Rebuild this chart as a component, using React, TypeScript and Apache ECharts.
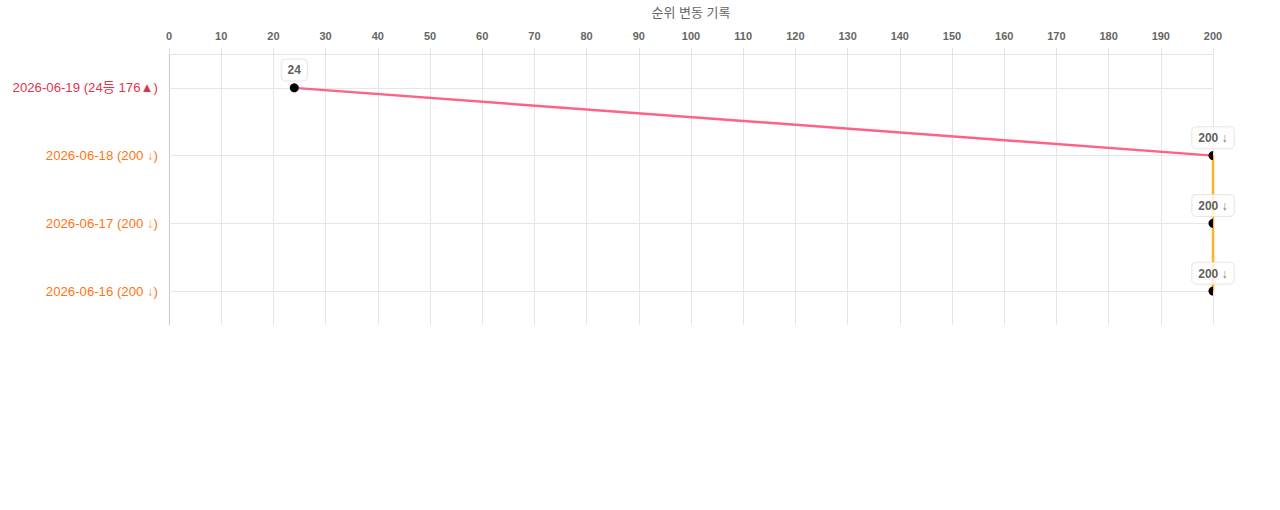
import React, { useEffect, useRef } from "react";
import * as echarts from "echarts";

const categories = ["2026-06-19", "2026-06-18", "2026-06-17", "2026-06-16"];
const categoryTexts = ["2026-06-19 (24등 176▲)", "2026-06-18 (200 ", "2026-06-17 (200 ", "2026-06-16 (200 "];
const categoryArrows = ["", "↓", "↓", "↓"];
const categoryStyles = ["up", "down", "down", "down"];
const ranks = [24, 200, 200, 200];
const pointValues = ["24", "200", "200", "200"];
const pointArrows = ["", "↓", "↓", "↓"];
const segmentColors = ["#ff6384", "#ffb22a", "#ffb22a"];

const FONT = 'Arial, "Liberation Sans", "Noto Sans CJK KR", sans-serif';

export default function App() {
  const ref = useRef<HTMLDivElement>(null);
  useEffect(() => {
    document.body.style.margin = "0";
    const chart = echarts.init(ref.current!, undefined, { renderer: "svg" });

    const segmentSeries = segmentColors.map((c, i) => ({
      type: "line",
      data: [
        [ranks[i], categories[i]],
        [ranks[i + 1], categories[i + 1]],
      ],
      symbol: "none",
      lineStyle: { color: c, width: 2.5 },
      clip: true,
      z: 3,
      silent: true,
    }));

    chart.setOption({
      animation: false,
      grid: { left: 169, right: 67, top: 54, bottom: 185, containLabel: false },
      xAxis: {
        type: "value",
        position: "top",
        min: 0,
        max: 200,
        interval: 10,
        name: "순위 변동 기록",
        nameLocation: "middle",
        nameGap: 35,
        nameTextStyle: { color: "#666", fontSize: 13, fontFamily: FONT },
        axisLine: { show: true, lineStyle: { color: "#e3e3e3" } },
        axisTick: { show: true, length: 6, lineStyle: { color: "#e3e3e3" } },
        axisLabel: { color: "#666", fontSize: 11, fontWeight: "bold", fontFamily: FONT, margin: 13 },
        splitLine: { show: true, lineStyle: { color: "#e6e6e6" } },
      },
      yAxis: {
        type: "category",
        data: categories,
        inverse: true,
        axisLine: { show: true, lineStyle: { color: "#c8c8c8" } },
        axisTick: { show: false },
        splitLine: { show: false },
        axisLabel: {
          fontSize: 13.2,
          fontFamily: FONT,
          margin: 11,
          formatter: (v: string) => {
            const i = categories.indexOf(v);
            const s = categoryStyles[i];
            if (!categoryArrows[i]) return `{${s}|${categoryTexts[i]}}`;
            return `{${s}|${categoryTexts[i]}}{${s}Arrow|${categoryArrows[i]}}{${s}|)}`;
          },
          rich: {
            up: { color: "#e0364a", fontSize: 13.2, fontFamily: FONT },
            down: { color: "#fd7514", fontSize: 13.2, fontFamily: FONT },
            downArrow: { color: "#fd9a55", fontSize: 13.2, fontFamily: FONT },
          },
        },
      },
      series: [
        {
          type: "line",
          data: [],
          silent: true,
          z: 1,
          markLine: {
            silent: true,
            symbol: "none",
            z: 1,
            label: { show: false },
            lineStyle: { color: "#e6e6e6", width: 1, type: "solid" },
            data: categories.map((c) => ({ yAxis: c })),
          },
        },
        ...segmentSeries,
        {
          type: "custom",
          clip: true,
          z: 10,
          data: ranks.map((r, i) => [r, i]),
          encode: { x: 0, y: 1 },
          renderItem: (params: any, api: any) => {
            const p = api.coord([api.value(0), api.value(1)]);
            return {
              type: "circle",
              shape: { cx: p[0], cy: p[1], r: 4.5 },
              style: { fill: "#000", stroke: "#000", lineWidth: 0 },
            };
          },
        },
        {
          type: "scatter",
          clip: false,
          z: 11,
          symbolSize: 1,
          itemStyle: { color: "rgba(0,0,0,0)" },
          data: ranks.map((r, i) => [r, categories[i]]),
          label: {
            show: true,
            position: "top",
            distance: 7,
            formatter: (p: any) =>
              pointArrows[p.dataIndex]
                ? `{v|${pointValues[p.dataIndex]} }{a|${pointArrows[p.dataIndex]}}`
                : `{v|${pointValues[p.dataIndex]}}`,
            backgroundColor: "#fff",
            borderColor: "#e2e2e2",
            borderWidth: 1,
            borderRadius: 4,
            padding: [4, 6, 3, 6],
            rich: {
              v: { color: "#333", fontSize: 12, fontWeight: "bold", fontFamily: FONT, lineHeight: 14 },
              a: { color: "#555", fontSize: 12.5, fontFamily: FONT, lineHeight: 14 },
            },
          },
        },
      ],
    });
    return () => chart.dispose();
  }, []);
  return <div ref={ref} style={{ width: 1280, height: 510 }} />;
}
